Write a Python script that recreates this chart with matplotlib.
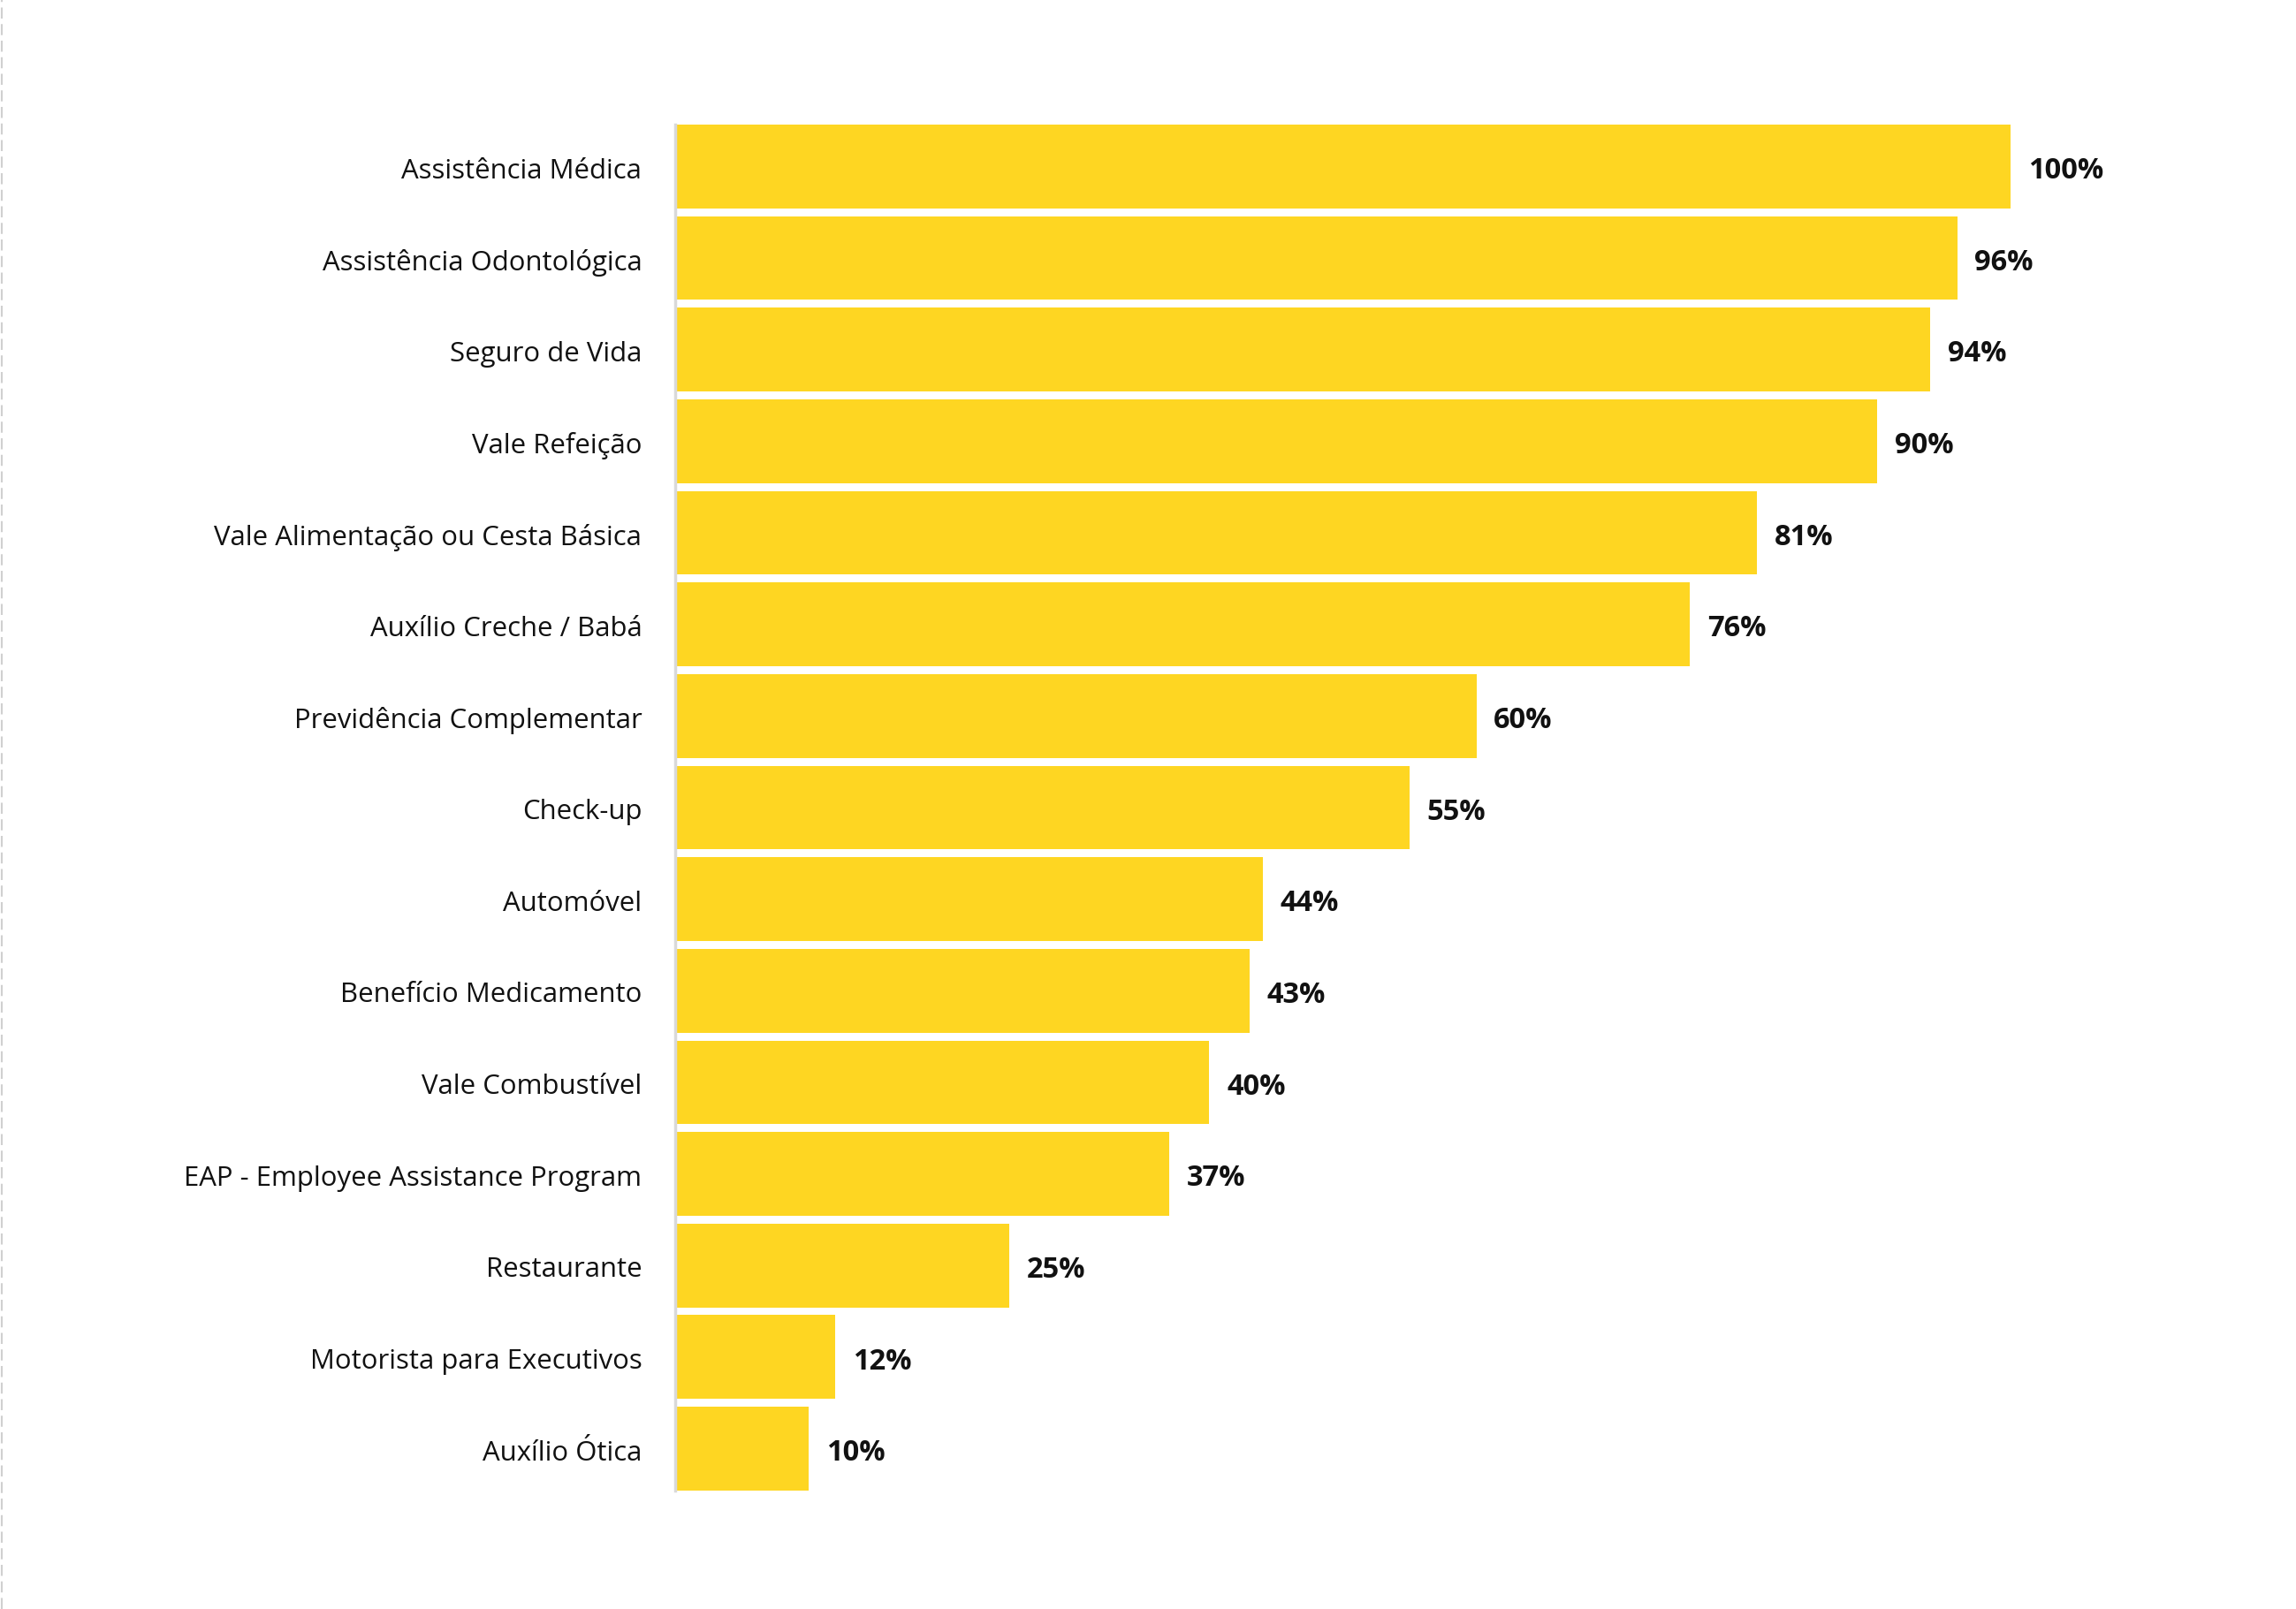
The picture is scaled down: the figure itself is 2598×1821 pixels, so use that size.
import matplotlib.pyplot as plt
from matplotlib.lines import Line2D

categorias = [
    "Assistência Médica",
    "Assistência Odontológica",
    "Seguro de Vida",
    "Vale Refeição",
    "Vale Alimentação ou Cesta Básica",
    "Auxílio Creche / Babá",
    "Previdência Complementar",
    "Check-up",
    "Automóvel",
    "Benefício Medicamento",
    "Vale Combustível",
    "EAP - Employee Assistance Program",
    "Restaurante",
    "Motorista para Executivos",
    "Auxílio Ótica",
]
valores = [100, 96, 94, 90, 81, 76, 60, 55, 44, 43, 40, 37, 25, 12, 10]

plt.rcParams['font.family'] = ['Open Sans', 'DejaVu Sans']

fig = plt.figure(figsize=(25.98, 18.21), dpi=100)
ax = fig.add_axes([0.2941, 0.0736, 0.5816, 0.849])

h = 0.915
pos = list(range(len(categorias)))
ax.barh(pos, valores, height=h, color='#FED622', edgecolor='none')

ax.set_xlim(0, 100)
ax.set_ylim(len(categorias) - 1 + h / 2, -h / 2)
ax.set_xticks([])
ax.set_yticks([])

# rótulos das categorias (à esquerda) e valores (à direita das barras)
desloc = 0.05
for y, nome in zip(pos, categorias):
    ax.text(-0.025, y + desloc, nome, transform=ax.get_yaxis_transform(),
            ha='right', va='center', fontsize=22.4, color='#111111')

for y, v in zip(pos, valores):
    ax.text(v + 1.3, y + desloc, '%d%%' % v, va='center', ha='left',
            fontsize=23.5, fontweight='bold', color='#111111')

for s in ['top', 'right', 'bottom']:
    ax.spines[s].set_visible(False)
ax.spines['left'].set_color('#d9d9d9')
ax.spines['left'].set_linewidth(2.5)

# linha tracejada na borda esquerda
fig.add_artist(Line2D([0.0008, 0.0008], [0, 1], transform=fig.transFigure,
                      color='#d0d0d0', linewidth=1.5, linestyle=(0, (6, 3))))

fig.savefig('out.png', dpi=100, facecolor='white')
